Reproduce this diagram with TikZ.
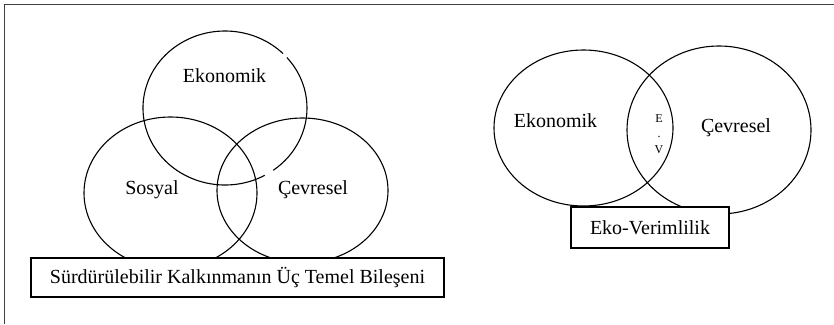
\documentclass[tikz,border=0pt]{standalone}
\usepackage{fontspec}
\setmainfont{Liberation Serif}
\begin{document}
\begin{tikzpicture}[x=1pt,y=-1pt,
  ring/.style={line width=1.1pt},
  lbl/.style={font=\fontsize{20}{24}\selectfont, inner sep=0pt},
  capbox/.style={draw, line width=1.1pt, fill=white, inner sep=0pt, font=\fontsize{20}{24}\selectfont},
  frameline/.style={line width=1.4pt, black!75}]
\useasboundingbox (0,0) rectangle (834,324);
% frame
\coordinate (fb) at (4.5,324);
\coordinate (fc) at (4.5,4.5);
\coordinate (fr) at (834,4.5);
\draw[frameline] (fb) -- (fc) -- (fr);
% left diagram
\coordinate (cE) at (225,108);
\coordinate (cS) at (170.5,193);
\coordinate (cC) at (302.5,190.5);
\draw[ring] ([shift={(cE)}] -41:82 and 77) arc[start angle=-41, end angle=54, x radius=82, y radius=77];
\draw[ring] ([shift={(cE)}] 61:82 and 77) arc[start angle=61, end angle=315, x radius=82, y radius=77];
\draw[ring] (cS) ellipse [x radius=86.5, y radius=76];
\draw[ring] (cC) ellipse [x radius=85.5, y radius=72.5];
\node[lbl] (tE) at (224.5,76) {Ekonomik};
\node[lbl] (tS) at (152,190) {Sosyal};
\node[lbl] (tC) at (313,190) {Çevresel};
\node[capbox, minimum width=413pt, minimum height=39pt] (cap1) at (237.5,277.5) {Sürdürülebilir Kalkınmanın Üç Temel Bileşeni};
% right diagram
\coordinate (cL) at (583.5,128);
\coordinate (cR) at (719,130);
\draw[ring] (cL) ellipse [x radius=89.5, y radius=78];
\draw[ring] (cR) ellipse [x radius=92, y radius=84];
\node[lbl] (tE2) at (555.5,121) {Ekonomik};
\node[lbl] (tC2) at (736,128) {Çevresel};
\node[inner sep=0pt, align=center, font=\fontsize{12}{15.5}\selectfont] (ev) at (659,134) {E\\.\\V};
\node[capbox, minimum width=158pt, minimum height=41pt] (cap2) at (650,227.5) {Eko-Verimlilik};
\end{tikzpicture}
\end{document}
